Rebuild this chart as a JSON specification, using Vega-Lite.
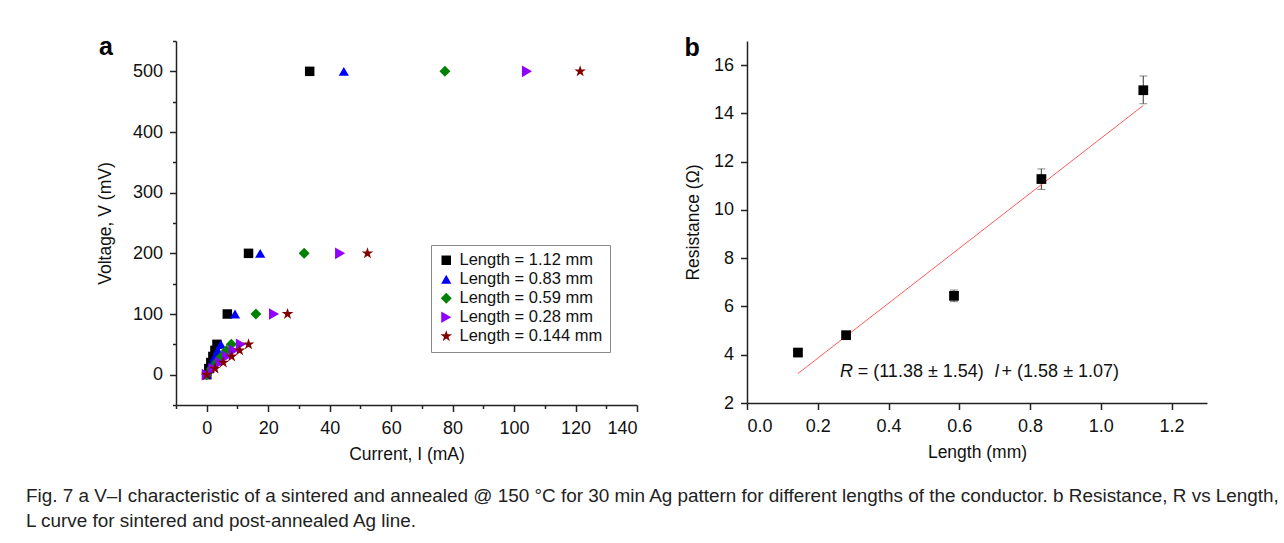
{
  "$schema": "https://vega.github.io/schema/vega-lite/v6.json",
  "background": "white",
  "padding": {"left": 25, "top": 35, "right": 0, "bottom": 0},
  "config": {
    "font": "Liberation Sans",
    "view": {"stroke": null},
    "axis": {
      "grid": false,
      "domainColor": "#222",
      "domainWidth": 1.5,
      "tickColor": "#222",
      "tickWidth": 1.5,
      "labelFont": "Liberation Sans",
      "labelFontSize": 18,
      "labelColor": "#111",
      "titleFont": "Liberation Sans",
      "titleFontSize": 17.5,
      "titleFontWeight": "normal",
      "titleColor": "#111",
      "labelPadding": 7
    },
    "title": {"font": "Liberation Sans", "fontSize": 25, "fontWeight": "bold", "color": "#000"}
  },
  "title": {
    "text": ["Fig. 7 a V–I characteristic of a sintered and annealed @ 150 °C for 30 min Ag pattern for different lengths of the conductor. b Resistance, R vs Length,", "L curve for sintered and post-annealed Ag line."],
    "orient": "bottom",
    "anchor": "start",
    "frame": "bounds",
    "fontSize": 18.9,
    "fontWeight": "normal",
    "color": "#222",
    "lineHeight": 25,
    "offset": 24,
    "dx": -71
  },
  "spacing": 46,
  "hconcat": [
    {
      "width": 461,
      "height": 364,
      "title": {"text": "a", "anchor": "start", "frame": "bounds", "offset": 0, "dy": 20, "dx": 2},
      "data": {"values": [
        {"L": "Length = 1.12 mm", "V": 0, "I": 0},
        {"L": "Length = 1.12 mm", "V": 10, "I": 0.67},
        {"L": "Length = 1.12 mm", "V": 20, "I": 1.33},
        {"L": "Length = 1.12 mm", "V": 30, "I": 2.0},
        {"L": "Length = 1.12 mm", "V": 40, "I": 2.67},
        {"L": "Length = 1.12 mm", "V": 50, "I": 3.33},
        {"L": "Length = 1.12 mm", "V": 100, "I": 6.7},
        {"L": "Length = 1.12 mm", "V": 200, "I": 13.6},
        {"L": "Length = 1.12 mm", "V": 500, "I": 33.5},
        {"L": "Length = 0.83 mm", "V": 0, "I": 0},
        {"L": "Length = 0.83 mm", "V": 10, "I": 0.9},
        {"L": "Length = 0.83 mm", "V": 20, "I": 1.8},
        {"L": "Length = 0.83 mm", "V": 30, "I": 2.7},
        {"L": "Length = 0.83 mm", "V": 40, "I": 3.6},
        {"L": "Length = 0.83 mm", "V": 50, "I": 4.6},
        {"L": "Length = 0.83 mm", "V": 100, "I": 9.2},
        {"L": "Length = 0.83 mm", "V": 200, "I": 17.4},
        {"L": "Length = 0.83 mm", "V": 500, "I": 44.6},
        {"L": "Length = 0.59 mm", "V": 0, "I": 0},
        {"L": "Length = 0.59 mm", "V": 10, "I": 1.6},
        {"L": "Length = 0.59 mm", "V": 20, "I": 3.2},
        {"L": "Length = 0.59 mm", "V": 30, "I": 4.8},
        {"L": "Length = 0.59 mm", "V": 40, "I": 6.4},
        {"L": "Length = 0.59 mm", "V": 50, "I": 8.0},
        {"L": "Length = 0.59 mm", "V": 100, "I": 16.0},
        {"L": "Length = 0.59 mm", "V": 200, "I": 31.7},
        {"L": "Length = 0.59 mm", "V": 500, "I": 77.5},
        {"L": "Length = 0.28 mm", "V": 0, "I": 0},
        {"L": "Length = 0.28 mm", "V": 10, "I": 2.2},
        {"L": "Length = 0.28 mm", "V": 20, "I": 4.4},
        {"L": "Length = 0.28 mm", "V": 30, "I": 6.6},
        {"L": "Length = 0.28 mm", "V": 40, "I": 8.8},
        {"L": "Length = 0.28 mm", "V": 50, "I": 11.1},
        {"L": "Length = 0.28 mm", "V": 100, "I": 21.9},
        {"L": "Length = 0.28 mm", "V": 200, "I": 43.4},
        {"L": "Length = 0.28 mm", "V": 500, "I": 104.2},
        {"L": "Length = 0.144 mm", "V": 0, "I": 0},
        {"L": "Length = 0.144 mm", "V": 10, "I": 2.7},
        {"L": "Length = 0.144 mm", "V": 20, "I": 5.4},
        {"L": "Length = 0.144 mm", "V": 30, "I": 8.1},
        {"L": "Length = 0.144 mm", "V": 40, "I": 10.7},
        {"L": "Length = 0.144 mm", "V": 50, "I": 13.6},
        {"L": "Length = 0.144 mm", "V": 100, "I": 26.3},
        {"L": "Length = 0.144 mm", "V": 200, "I": 52.3},
        {"L": "Length = 0.144 mm", "V": 500, "I": 121.5}
      ]},
      "mark": {"type": "point", "filled": true, "opacity": 1, "strokeWidth": 0},
      "encoding": {
        "x": {
          "field": "I", "type": "quantitative",
          "scale": {"domain": [-10, 140], "nice": false, "zero": false},
          "axis": {
            "title": "Current, I (mA)",
            "values": [-10, 0, 10, 20, 30, 40, 50, 60, 70, 80, 90, 100, 110, 120, 130, 140],
            "labelExpr": "datum.value % 20 === 0 ? datum.label : ''",
            "tickSize": {"condition": {"test": "datum.value % 20 === 0", "value": 6.5}, "value": 3.5},
            "labelPadding": 8,
            "titlePadding": 8
          }
        },
        "y": {
          "field": "V", "type": "quantitative",
          "scale": {"domain": [-50, 550], "nice": false, "zero": false},
          "axis": {
            "title": "Voltage, V (mV)",
            "values": [-50, 0, 50, 100, 150, 200, 250, 300, 350, 400, 450, 500, 550],
            "labelExpr": "datum.value % 100 === 0 ? datum.label : ''",
            "tickSize": {"condition": {"test": "datum.value % 100 === 0", "value": 6.5}, "value": 3.5},
            "titlePadding": 17.5
          }
        },
        "color": {
          "field": "L", "type": "nominal",
          "scale": {
            "domain": ["Length = 1.12 mm", "Length = 0.83 mm", "Length = 0.59 mm", "Length = 0.28 mm", "Length = 0.144 mm"],
            "range": ["#000000", "#0000ff", "#008000", "#8f00ff", "#800000"]
          },
          "legend": {
            "title": null,
            "orient": "none",
            "legendX": 255,
            "legendY": 204,
            "strokeColor": "#888",
            "fillColor": "white",
            "padding": 7,
            "rowPadding": 2,
            "labelFontSize": 16.5,
            "labelFont": "Liberation Sans",
            "labelColor": "#111",
            "symbolSize": 85,
            "labelOffset": 5
          }
        },
        "shape": {
          "field": "L", "type": "nominal",
          "scale": {
            "domain": ["Length = 1.12 mm", "Length = 0.83 mm", "Length = 0.59 mm", "Length = 0.28 mm", "Length = 0.144 mm"],
            "range": ["square", "triangle-up", "diamond", "triangle-right", "M0,-1L0.2245,-0.309L0.951,-0.309L0.363,0.118L0.588,0.809L0,0.382L-0.588,0.809L-0.363,0.118L-0.951,-0.309L-0.2245,-0.309Z"]
          },
          "legend": null
        },
        "size": {
          "field": "L", "type": "nominal",
          "scale": {
            "domain": ["Length = 1.12 mm", "Length = 0.83 mm", "Length = 0.59 mm", "Length = 0.28 mm", "Length = 0.144 mm"],
            "range": [90, 150, 130, 150, 170]
          },
          "legend": null
        }
      }
    },
    {
      "width": 460,
      "height": 362,
      "title": {"text": "b", "anchor": "start", "frame": "bounds", "offset": 0, "dy": 20},
      "layer": [
        {
          "data": {"values": [
            {"len": 0.144, "lo": 4.05, "hi": 4.13},
            {"len": 0.28, "lo": 4.72, "hi": 4.9},
            {"len": 0.585, "lo": 6.2, "hi": 6.68},
            {"len": 0.832, "lo": 10.85, "hi": 11.7},
            {"len": 1.12, "lo": 14.4, "hi": 15.55}
          ]},
          "mark": {"type": "errorbar", "ticks": {"size": 8, "color": "#555", "strokeWidth": 1.2}, "rule": {"color": "#555", "strokeWidth": 1.2}},
          "encoding": {
            "x": {"field": "len", "type": "quantitative", "title": "Length (mm)"},
            "y": {"field": "lo", "type": "quantitative", "title": "Resistance (Ω)"},
            "y2": {"field": "hi"}
          }
        },
        {
          "data": {"values": [
            {"len": 0.144, "R": 3.22},
            {"len": 1.12, "R": 14.33}
          ]},
          "mark": {"type": "line", "color": "#ff5a5a", "strokeWidth": 1},
          "encoding": {
            "x": {"field": "len", "type": "quantitative", "title": "Length (mm)"},
            "y": {"field": "R", "type": "quantitative", "title": "Resistance (Ω)"}
          }
        },
        {
          "data": {"values": [
            {"len": 0.144, "R": 4.09},
            {"len": 0.28, "R": 4.81},
            {"len": 0.585, "R": 6.44},
            {"len": 0.832, "R": 11.28},
            {"len": 1.12, "R": 14.96}
          ]},
          "mark": {"type": "square", "filled": true, "color": "#000", "size": 95, "opacity": 1},
          "encoding": {
            "x": {
              "field": "len", "type": "quantitative",
              "scale": {"domain": [0, 1.3], "nice": false, "zero": false},
              "axis": {
                "title": "Length (mm)",
                "values": [0, 0.1, 0.2, 0.3, 0.4, 0.5, 0.6, 0.7, 0.8, 0.9, 1.0, 1.1, 1.2, 1.3],
                "labelExpr": "round(datum.value * 10) % 2 === 0 ? format(datum.value, '.1f') : ''",
                "tickSize": {"condition": {"test": "round(datum.value * 10) % 2 === 0", "value": 6.5}, "value": 3.5},
                "labelPadding": 8,
                "titlePadding": 8
              }
            },
            "y": {
              "field": "R", "type": "quantitative",
              "scale": {"domain": [2, 17], "nice": false, "zero": false},
              "axis": {
                "title": "Resistance (Ω)",
                "values": [2, 3, 4, 5, 6, 7, 8, 9, 10, 11, 12, 13, 14, 15, 16, 17],
                "labelExpr": "datum.value % 2 === 0 ? datum.label : ''",
                "tickSize": {"condition": {"test": "datum.value % 2 === 0", "value": 6.5}, "value": 3.5},
                "titlePadding": 11
              }
            }
          }
        },
        {
          "data": {"values": [
            {"len": 0.2627, "R": 3.28, "t": "R"},
            {"len": 0.7, "R": 3.28, "t": "l"}
          ]},
          "mark": {"type": "text", "align": "left", "baseline": "middle", "fontStyle": "italic", "fontSize": 18, "color": "#111"},
          "encoding": {
            "x": {"field": "len", "type": "quantitative"},
            "y": {"field": "R", "type": "quantitative"},
            "text": {"field": "t"}
          }
        },
        {
          "data": {"values": [
            {"len": 0.3128, "R": 3.28, "t": "= (11.38 ± 1.54)"},
            {"len": 0.7195, "R": 3.28, "t": "+ (1.58 ± 1.07)"}
          ]},
          "mark": {"type": "text", "align": "left", "baseline": "middle", "fontSize": 18, "color": "#111"},
          "encoding": {
            "x": {"field": "len", "type": "quantitative"},
            "y": {"field": "R", "type": "quantitative"},
            "text": {"field": "t"}
          }
        }
      ]
    }
  ]
}
